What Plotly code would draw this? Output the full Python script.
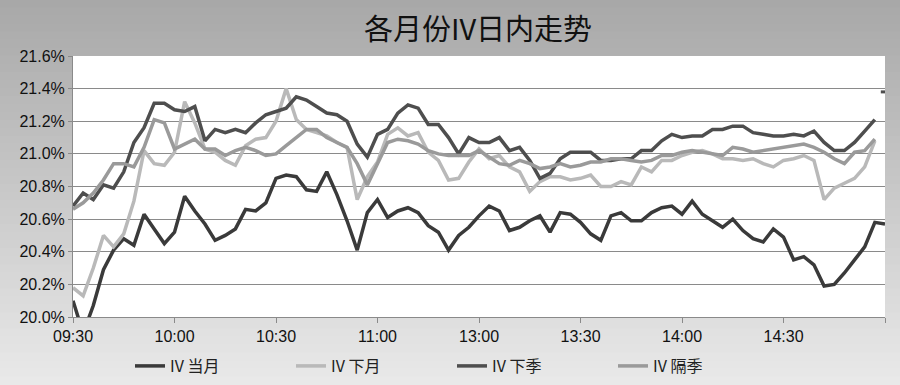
import plotly.graph_objects as go

# ---- data (IV, %) sampled every 3 minutes of trading time ----
dangyue = [20.10, 19.90, 20.07, 20.29, 20.41, 20.48, 20.44, 20.63, 20.54, 20.45,
           20.52, 20.74, 20.65, 20.57, 20.47, 20.50, 20.54, 20.66, 20.65, 20.70,
           20.85, 20.87, 20.86, 20.78, 20.77, 20.89, 20.75, 20.59, 20.41, 20.64,
           20.72, 20.61, 20.65, 20.67, 20.64, 20.56, 20.52, 20.41, 20.50, 20.55,
           20.62, 20.68, 20.65, 20.53, 20.55, 20.59, 20.62, 20.52, 20.64, 20.63,
           20.58, 20.51, 20.47, 20.62, 20.64, 20.59, 20.59, 20.64, 20.67, 20.68,
           20.63, 20.71, 20.63, 20.59, 20.55, 20.60, 20.53, 20.48, 20.46, 20.54,
           20.49, 20.35, 20.37, 20.32, 20.19, 20.20, 20.27, 20.35, 20.43, 20.58,
           20.57]
xiayue = [20.18, 20.13, 20.30, 20.50, 20.43, 20.51, 20.71, 21.02, 20.94, 20.93,
          21.01, 21.32, 21.19, 21.03, 21.01, 20.96, 20.93, 21.05, 21.09, 21.10,
          21.20, 21.40, 21.21, 21.15, 21.13, 21.11, 21.07, 21.04, 20.72, 20.86,
          20.95, 21.12, 21.16, 21.11, 21.13, 21.01, 20.96, 20.84, 20.85, 20.95,
          21.03, 20.97, 20.99, 20.92, 20.89, 20.77, 20.83, 20.86, 20.86, 20.84,
          20.85, 20.87, 20.80, 20.80, 20.83, 20.81, 20.92, 20.89, 20.96, 20.96,
          20.99, 21.01, 21.02, 21.00, 20.97, 20.97, 20.96, 20.97, 20.94, 20.92,
          20.96, 20.97, 20.99, 20.96, 20.72, 20.79, 20.82, 20.85, 20.92, 21.08,
          None]
xiaji = [20.68, 20.76, 20.72, 20.81, 20.79, 20.89, 21.07, 21.16, 21.31, 21.31,
         21.27, 21.26, 21.29, 21.08, 21.15, 21.13, 21.15, 21.13, 21.19, 21.24,
         21.26, 21.28, 21.35, 21.33, 21.29, 21.25, 21.24, 21.20, 21.06, 20.98,
         21.12, 21.15, 21.25, 21.30, 21.28, 21.18, 21.18, 21.10, 21.00, 21.10,
         21.07, 21.07, 21.10, 21.02, 21.04, 20.96, 20.85, 20.88, 20.97, 21.01,
         21.01, 21.01, 20.96, 20.96, 20.97, 20.97, 21.02, 21.02, 21.08, 21.12,
         21.10, 21.11, 21.11, 21.15, 21.15, 21.17, 21.17, 21.13, 21.12, 21.11,
         21.11, 21.12, 21.11, 21.14, 21.07, 21.02, 21.02, 21.07, 21.14, 21.21,
         None]
xiaji_close = 21.38
geji = [20.66, 20.70, 20.76, 20.84, 20.94, 20.94, 20.92, 21.04, 21.21, 21.19,
        21.03, 21.06, 21.09, 21.03, 21.03, 20.99, 21.02, 21.04, 21.02, 20.99,
        21.00, 21.05, 21.10, 21.15, 21.15, 21.10, 21.07, 21.04, 20.94, 20.81,
        20.94, 21.07, 21.09, 21.08, 21.06, 21.02, 21.00, 20.99, 20.99, 20.99,
        21.02, 20.98, 20.94, 20.93, 20.96, 20.94, 20.91, 20.92, 20.94, 20.92,
        20.93, 20.95, 20.95, 20.97, 20.97, 20.96, 20.95, 20.96, 20.99, 20.99,
        21.01, 21.02, 21.01, 21.00, 20.99, 21.04, 21.03, 21.01, 21.02, 21.03,
        21.04, 21.05, 21.06, 21.04, 21.01, 20.97, 20.94, 21.01, 21.02, 21.09,
        None]

series_names = ["IV 当月", "IV 下月", "IV 下季", "IV 隔季"]
series_colors = ["#3a3a3a", "#b9b9b9", "#4e4e4e", "#9a9a9a"]

# time categories: morning 09:30-11:27, afternoon 13:00-15:00 (3-min steps)
times = []
for k in range(40):
    t = 9 * 60 + 30 + 3 * k
    times.append(f"{t // 60:02d}:{t % 60:02d}")
for k in range(41):
    t = 13 * 60 + 3 * k
    times.append(f"{t // 60:02d}:{t % 60:02d}")

tick_vals = ["09:30", "10:00", "10:30", "11:00", "13:00", "13:30", "14:00", "14:30", "15:00"]
tick_text = ["09:30", "10:00", "10:30", "11:00", "13:00", "13:30", "14:00", "14:30", ""]

fig = go.Figure()
for name, vals, col in zip(series_names, [dangyue, xiayue, xiaji, geji], series_colors):
    fig.add_trace(go.Scatter(x=times, y=vals, name=name, mode="lines",
                             line=dict(color=col, width=3.5), connectgaps=False))
fig.add_trace(go.Scatter(x=[times[-1]], y=[xiaji_close], mode="markers", showlegend=False,
                         marker=dict(symbol="line-ew", size=6,
                                     line=dict(color=series_colors[2], width=3))))

# background gradient (vertical)
W, H, L, R, T, B = 900, 385, 73, 15, 56, 68
ph = H - T - B
pw = W - L - R
shapes = []
nb = 48
for j in range(nb):
    y0p = j * H / nb
    y1p = (j + 1) * H / nb
    f = (j + 0.5) / nb
    g = int(168 + (234 - 168) * f)
    shapes.append(dict(type="rect", xref="paper", yref="paper", layer="below",
                       x0=-L / pw - 0.01, x1=(W - L) / pw + 0.01,
                       y0=(H - B - y1p) / ph - 0.002, y1=(H - B - y0p) / ph + 0.002,
                       fillcolor=f"rgb({g},{g},{g})", line=dict(width=0)))
shapes.append(dict(type="rect", xref="paper", yref="paper", layer="below",
                   x0=0, x1=1, y0=0, y1=1, fillcolor="white", line=dict(width=0)))

fig.update_layout(
    width=W, height=H,
    margin=dict(l=L, r=R, t=T, b=B, autoexpand=False),
    paper_bgcolor="rgb(200,200,200)",
    plot_bgcolor="rgba(0,0,0,0)",
    shapes=shapes,
    title=dict(text="各月份IV日内走势", x=478 / W, xanchor="center", xref="container",
               y=1 - 30 / H, yanchor="middle", yref="container",
               font=dict(family="Noto Sans CJK SC", size=29, color="#111111")),
    showlegend=True,
    legend=dict(orientation="h", x=(130 - L) / pw, xanchor="left",
                y=(H - B - 366) / ph, yanchor="middle",
                bgcolor="rgba(0,0,0,0)", entrywidth=116, entrywidthmode="pixels",
                font=dict(family="Noto Sans CJK SC", size=16, color="#222222")),
    xaxis=dict(type="category", categoryorder="array", categoryarray=times,
               range=[0, len(times) - 1], tickmode="array", tickvals=tick_vals, ticktext=tick_text,
               showgrid=False, showline=True, linecolor="#8a8a8a", linewidth=1,
               ticks="outside", ticklen=5, tickcolor="#8a8a8a",
               tickfont=dict(family="Liberation Sans", size=16, color="#111111"),
               zeroline=False),
    yaxis=dict(range=[20.0, 21.6], dtick=0.2, tick0=20.0, tickformat=".1f", ticksuffix="%",
               showgrid=True, gridcolor="#8a8a8a", gridwidth=1,
               showline=True, linecolor="#8a8a8a", linewidth=1,
               ticks="outside", ticklen=4, tickcolor="#8a8a8a",
               tickfont=dict(family="Liberation Sans", size=16, color="#111111"),
               zeroline=False),
)

fig.write_html("out.html", config={"displayModeBar": False},
               post_script="document.body.style.margin='0';document.body.style.overflow='hidden';")
